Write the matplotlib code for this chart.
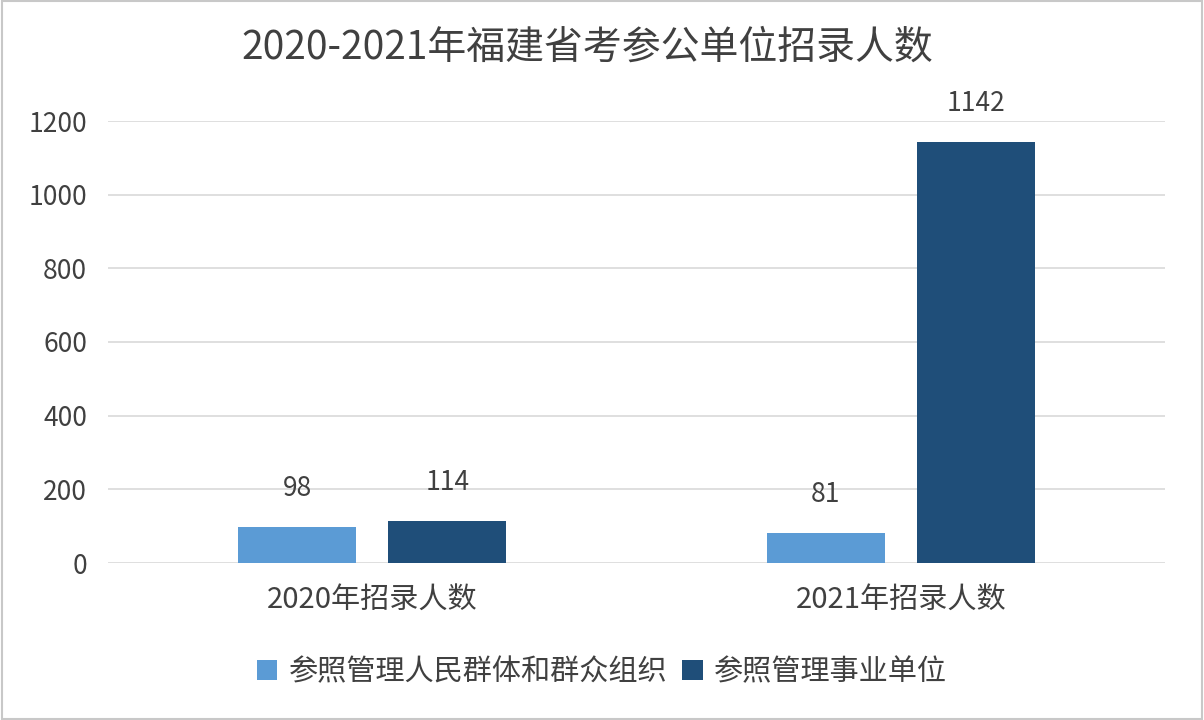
import matplotlib
matplotlib.use("Agg")
import matplotlib.pyplot as plt
from matplotlib.patches import Rectangle
import numpy as np

plt.rcParams['font.family'] = ['Noto Sans CJK SC', 'DejaVu Sans']

title = "2020-2021年福建省考参公单位招录人数"
categories = ["2020年招录人数", "2021年招录人数"]
series_names = ["参照管理人民群体和群众组织", "参照管理事业单位"]
series_a = [98, 81]
series_b = [114, 1142]
yticks = [0, 200, 400, 600, 800, 1000, 1200]

colors = ["#5B9BD5", "#1F4E79"]
text_color = "#404040"

fig = plt.figure(figsize=(12.04, 7.2), dpi=100)
ax = fig.add_axes([108/1204, 157/720, 1057/1204, 442/720])

x = np.arange(len(categories))
w = 0.223
off = 0.142
bars_a = ax.bar(x - off, series_a, w, color=colors[0], label=series_names[0], zorder=3)
bars_b = ax.bar(x + off, series_b, w, color=colors[1], label=series_names[1], zorder=3)

for bars, vals in ((bars_a, series_a), (bars_b, series_b)):
    for b, v in zip(bars, vals):
        ax.annotate(str(v), (b.get_x() + b.get_width()/2, b.get_height()),
                    xytext=(0, 18), textcoords="offset points",
                    ha="center", va="bottom", fontsize=19, color=text_color)

ax.set_xlim(-0.5, 1.5)
ax.set_ylim(0, 1200)
ax.set_yticks(yticks)
ax.set_yticklabels([str(t) for t in yticks], fontsize=19, color=text_color)
ax.set_xticks(x)
ax.set_xticklabels(categories, fontsize=21, color=text_color)
ax.tick_params(axis='both', length=0)
ax.tick_params(axis='y', pad=15)
ax.tick_params(axis='x', pad=16)
ax.grid(axis='y', color="#D9D9D9", linewidth=1.2, zorder=0)
for s in ax.spines.values():
    s.set_visible(False)

fig.text(0.4875, 1 - 48/720, title, ha='center', va='center', fontsize=28, color="#404040")

fig.legend(handles=[bars_a, bars_b], labels=series_names, loc='center',
           bbox_to_anchor=(0.5, 1 - 672/720), ncol=2, frameon=False,
           fontsize=21, handlelength=0.7, handleheight=0.7, handletextpad=0.4,
           columnspacing=0.5, labelcolor=text_color)

fig.patches.append(Rectangle((0.002, 0.002), 0.996, 0.996, transform=fig.transFigure,
                             fill=False, edgecolor="#C8C8C8", linewidth=1.5))

fig.savefig("out.png", dpi=100)
